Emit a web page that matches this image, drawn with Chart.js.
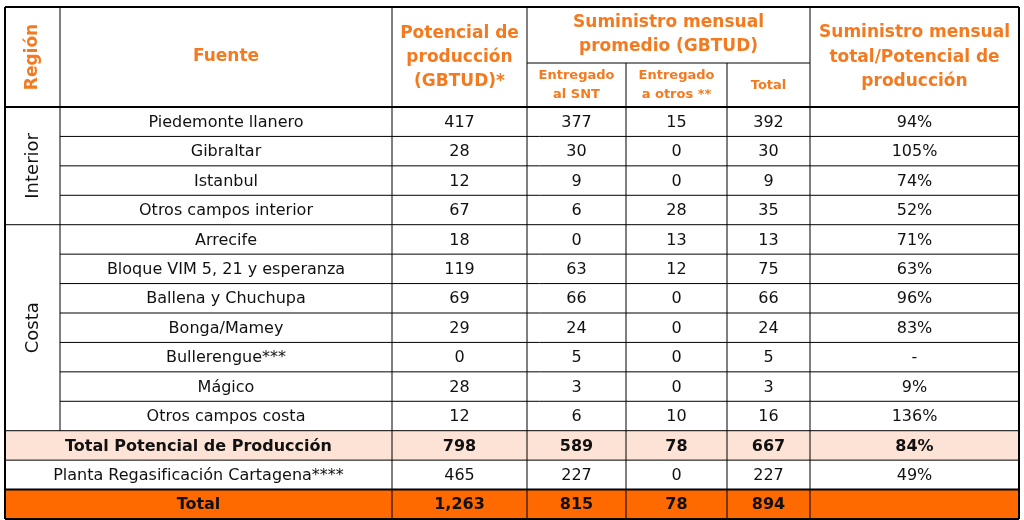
<!DOCTYPE html>
<html lang="es"><head><meta charset="UTF-8">
<script src="https://cdn.jsdelivr.net/npm/chart.js@4/dist/chart.umd.min.js"></script>
<style>html,body{margin:0;padding:0;background:#fff}canvas{display:block}</style>
</head><body><canvas id="c" width="1024" height="520"></canvas>
<script>
// table data
var fuentes = ["Piedemonte llanero","Gibraltar","Istanbul","Otros campos interior","Arrecife","Bloque VIM 5, 21 y esperanza","Ballena y Chuchupa","Bonga/Mamey","Bullerengue***","Mágico","Otros campos costa","Total Potencial de Producción","Planta Regasificación Cartagena****","Total"];
var potencial = ["417","28","12","67","18","119","69","29","0","28","12","798","465","1,263"];
var entregadoSNT = ["377","30","9","6","0","63","66","24","5","3","6","589","227","815"];
var entregadoOtros = ["15","0","0","28","13","12","0","0","0","0","10","78","0","78"];
var totalSum = ["392","30","9","35","13","75","66","24","5","3","16","667","227","894"];
var ratio = ["94%","105%","74%","52%","71%","63%","96%","83%","-","9%","136%","84%","49%",""];
var regiones = [{name:"Interior",from:0,to:4},{name:"Costa",from:4,to:11}];

var colX = [5,60,392,527,626,727,810,1019];
var headTop = 7, headMid = 63, headBot = 107, rowH = (519-107)/14;
var ORANGE = "#f47a20", FONT = "'DejaVu Sans',sans-serif";

var tablePlugin = {
  id: "table",
  afterDraw: function(chart){
    var ctx = chart.ctx, xs = chart.scales.x, ys = chart.scales.y;
    var X = function(v){return xs.getPixelForValue(v);}, Y = function(v){return ys.getPixelForValue(v);};
    var rowY = function(i){return headBot + i*rowH;};
    ctx.save();
    // fills
    ctx.fillStyle = "#fde3d6";
    ctx.fillRect(X(colX[0]),Y(rowY(11)),X(colX[7])-X(colX[0]),Y(rowY(12))-Y(rowY(11)));
    ctx.fillStyle = "#ff6a00";
    ctx.fillRect(X(colX[0]),Y(rowY(13)),X(colX[7])-X(colX[0]),Y(rowY(14))-Y(rowY(13)));
    function txt(s,x,y,font,color){ctx.font=font;ctx.fillStyle=color;ctx.textAlign="center";ctx.textBaseline="middle";ctx.fillText(s,X(x),Y(y));}
    // header
    var hf = "bold 17px "+FONT, hs = "bold 13px "+FONT;
    txt("Fuente",(colX[1]+colX[2])/2,57,hf,ORANGE);
    [["Potencial de",34],["producción",58],["(GBTUD)*",82]].forEach(function(l){txt(l[0],(colX[2]+colX[3])/2,l[1],hf,ORANGE);});
    txt("Suministro mensual",(colX[3]+colX[6])/2,23,hf,ORANGE);
    txt("promedio (GBTUD)",(colX[3]+colX[6])/2,47,hf,ORANGE);
    txt("Entregado",(colX[3]+colX[4])/2,76,hs,ORANGE);txt("al SNT",(colX[3]+colX[4])/2,95,hs,ORANGE);
    txt("Entregado",(colX[4]+colX[5])/2,76,hs,ORANGE);txt("a otros **",(colX[4]+colX[5])/2,95,hs,ORANGE);
    txt("Total",(colX[5]+colX[6])/2,86,hs,ORANGE);
    [["Suministro mensual",33],["total/Potencial de",58],["producción",82]].forEach(function(l){txt(l[0],(colX[6]+colX[7])/2,l[1],hf,ORANGE);});
    ctx.save();ctx.translate(X(33),Y(57));ctx.rotate(-Math.PI/2);ctx.font=hf;ctx.fillStyle=ORANGE;ctx.textAlign="center";ctx.textBaseline="middle";ctx.fillText("Región",0,0);ctx.restore();
    // regions
    regiones.forEach(function(r){
      ctx.save();ctx.translate(X(33),Y((rowY(r.from)+rowY(r.to))/2));ctx.rotate(-Math.PI/2);
      ctx.font="18px "+FONT;ctx.fillStyle="#111";ctx.textAlign="center";ctx.textBaseline="middle";ctx.fillText(r.name,0,0);ctx.restore();
    });
    // rows
    fuentes.forEach(function(f,i){
      var bold = (i===11||i===13), f1 = (bold?"bold ":"")+"16px "+FONT, c="#111";
      var y = rowY(i)+rowH/2+1;
      var fx = i>=11 ? (colX[0]+colX[2])/2 : (colX[1]+colX[2])/2;
      txt(f,fx,y,f1,c);
      [potencial,entregadoSNT,entregadoOtros,totalSum,ratio].forEach(function(arr,k){txt(arr[i],(colX[k+2]+colX[k+3])/2,y,f1,c);});
    });
    // grid
    ctx.strokeStyle="#000";
    function line(x1,y1,x2,y2,w){ctx.lineWidth=w||1;ctx.beginPath();ctx.moveTo(X(x1),Y(y1));ctx.lineTo(X(x2),Y(y2));ctx.stroke();}
    line(colX[0],headTop,colX[7],headTop,2);
    line(colX[3],headMid,colX[6],headMid);
    line(colX[0],headBot,colX[7],headBot,2);
    for(var i=1;i<=14;i++){
      var inRegion = (i<11 && i!==4);
      line(inRegion?colX[1]:colX[0],rowY(i),colX[7],rowY(i),(i===13||i===14)?2:1);
    }
    line(colX[0],headTop,colX[0],rowY(14),2);line(colX[7],headTop,colX[7],rowY(14),2);
    line(colX[1],headTop,colX[1],rowY(11));
    [2,3,6].forEach(function(k){line(colX[k],headTop,colX[k],rowY(14));});
    [4,5].forEach(function(k){line(colX[k],headMid,colX[k],rowY(14));});
    ctx.restore();
  }
};

new Chart(document.getElementById("c"),{
  type:"scatter",
  data:{datasets:[{data:[],pointRadius:0}]},
  options:{responsive:false,animation:false,layout:{padding:0},
    plugins:{legend:{display:false},tooltip:{enabled:false}},
    scales:{x:{type:"linear",min:0,max:1024,display:false},y:{type:"linear",min:0,max:520,reverse:true,display:false}}},
  plugins:[tablePlugin]
});
</script></body></html>
